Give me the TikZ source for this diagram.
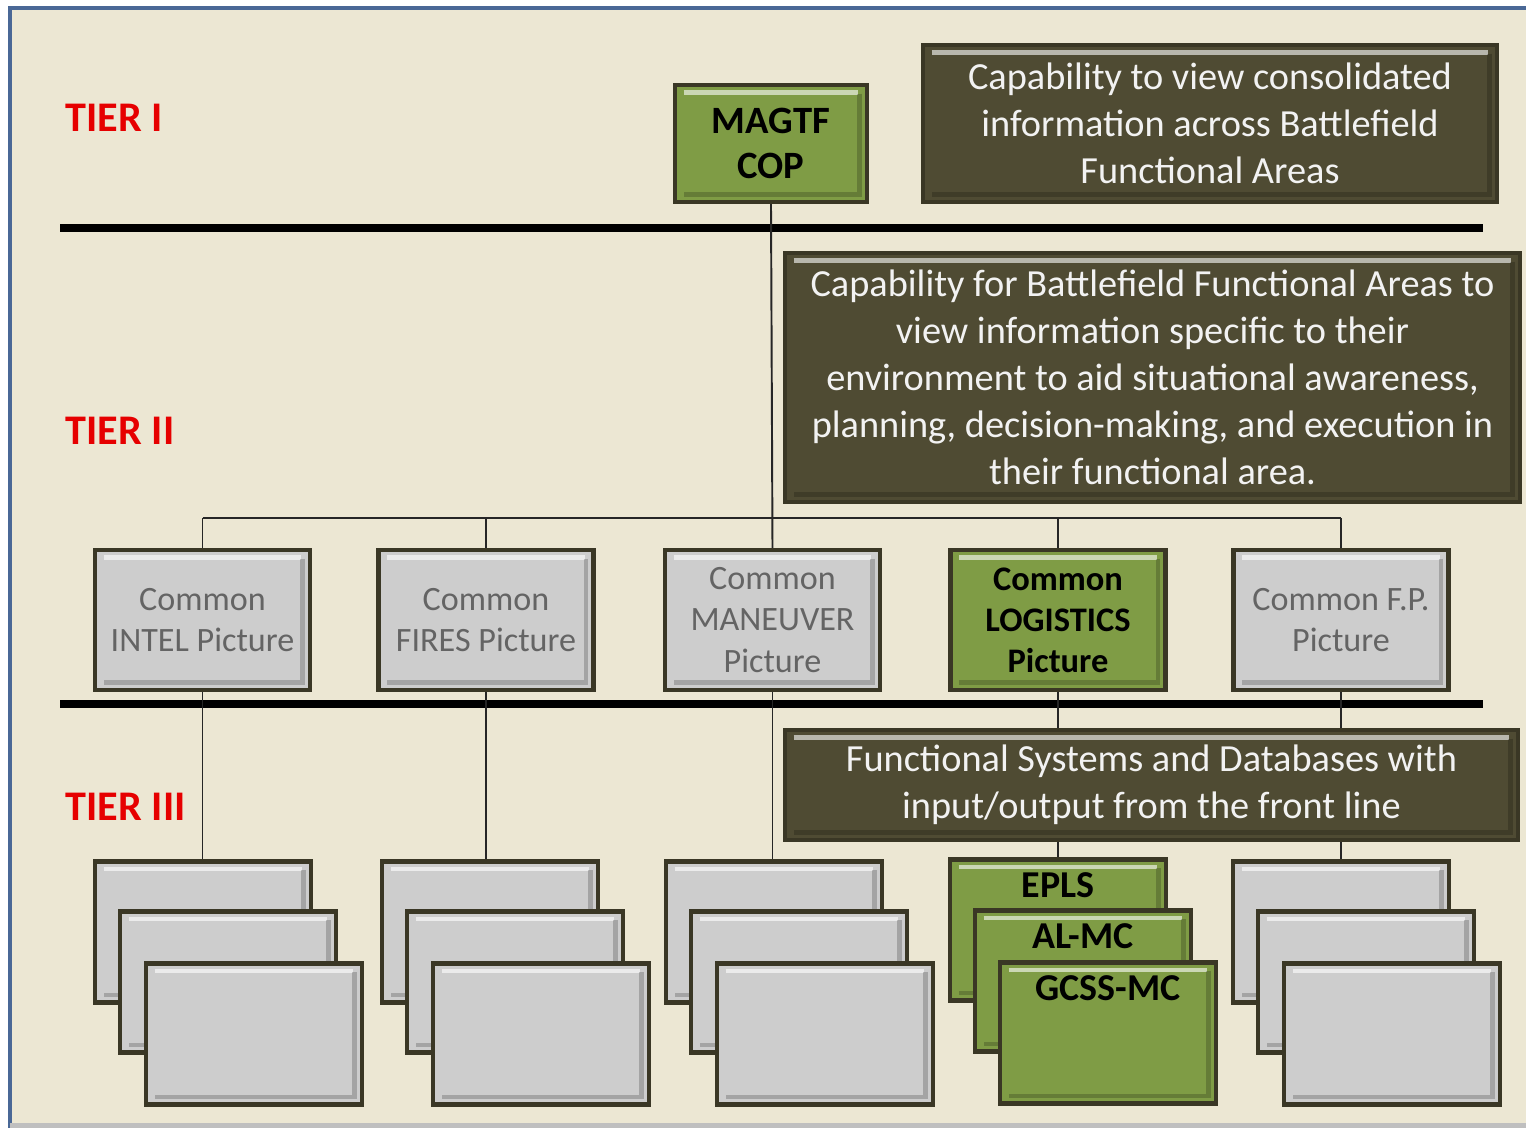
\documentclass[tikz,border=0pt]{standalone}
\usepackage{fontspec}
\setmainfont{Carlito}
\usetikzlibrary{positioning}
\pgfdeclarelayer{background}
\pgfsetlayers{background,main}

\definecolor{paper}{HTML}{ECE7D3}
\definecolor{frameblue}{HTML}{4A6896}
\definecolor{edge}{HTML}{3A3725}
\definecolor{darkolive}{HTML}{4F4B33}
\definecolor{copgreen}{HTML}{7F9C45}
\definecolor{boxgray}{HTML}{CDCDCD}
\definecolor{graytext}{HTML}{646464}
\definecolor{tierred}{HTML}{E60000}

\tikzset{
  bevel/.style={path picture={
    \draw[white,opacity=.6,line width=1.3pt]
      ([xshift=2.5pt,yshift=-2.2pt]path picture bounding box.north west) --
      ([xshift=-2.5pt,yshift=-2.2pt]path picture bounding box.north east);
    \draw[black,opacity=.2,line width=1.3pt]
      ([xshift=-2.2pt,yshift=-2.5pt]path picture bounding box.north east) --
      ([xshift=-2.2pt,yshift=2.2pt]path picture bounding box.south east) --
      ([xshift=2.5pt,yshift=2.2pt]path picture bounding box.south west);}},
  box/.style={draw=edge,line width=1.2pt,inner sep=0pt,align=center,bevel},
  info box/.style={box,fill=darkolive,text=white!95!black,
    font=\fontsize{10.9}{13.4}\selectfont},
  cop box/.style={box,fill=copgreen,text=black,
    font=\fontsize{11}{13}\selectfont\bfseries},
  pic box/.style={box,fill=boxgray,text=graytext,minimum width=2.15cm,minimum height=1.4cm,
    font=\fontsize{9.7}{11.7}\selectfont},
  sys box/.style={box,fill=boxgray,minimum width=2.16cm,minimum height=1.41cm},
  log box/.style={sys box,fill=copgreen},
  sys label/.style={font=\fontsize{10.8}{13}\selectfont\bfseries,anchor=north,inner sep=0pt,yshift=-0.15cm},
  tier/.style={font=\fontsize{12}{14}\selectfont\bfseries,text=tierred,anchor=west,inner sep=0pt},
  link/.style={draw=black!85,line width=0.55pt},
  rule/.style={draw=black,line width=2pt}
}

\begin{document}
\begin{tikzpicture}[x=0.01cm,y=-0.01cm]
  \useasboundingbox (0,0) rectangle (1526,1128);

  % tier labels
  \node[tier] (tierI) at (65,118) {TIER I};
  \node[tier] (tierII) at (65,431) {TIER II};
  \node[tier] (tierIII) at (65,807) {TIER III};

  % tier I
  \node[cop box,minimum width=1.92cm,minimum height=1.17cm] (magtf) at (771,143.5) {MAGTF\\COP};
  \node[info box,minimum width=5.74cm,minimum height=1.57cm] (capA) at (1210,123.5)
    {Capability to view consolidated\\information across Battlefield\\Functional Areas};
  \node[info box,minimum width=7.35cm,minimum height=2.49cm] (capB) at (1152.5,377.5)
    {Capability for Battlefield Functional Areas to\\view information specific to their\\
     environment to aid situational awareness,\\planning, decision-making, and execution in\\
     their functional area.};

  % tier II
  \node[pic box] (intel) at (202.5,620) {Common\\INTEL Picture};
  \node[pic box] (fires) at (486,620) {Common\\FIRES Picture};
  \node[pic box] (maneuver) at (772.5,620) {Common\\MANEUVER\\Picture};
  \node[pic box,fill=copgreen,text=black,font=\fontsize{9.8}{11.7}\selectfont\bfseries]
    (logistics) at (1058,620) {Common\\LOGISTICS\\Picture};
  \node[pic box] (fp) at (1341,620) {Common F.P.\\Picture};

  \node[info box,minimum width=7.33cm,minimum height=1.1cm] (capC) at (1151.5,785)
    {Functional Systems and Databases with\\input/output from the front line};

  % tier III
  \node[sys box] (intelA) at (203,932) {};
  \node[sys box] (intelB) at (228,982) {};
  \node[sys box] (intelC) at (254,1034) {};
  \node[sys box] (firesA) at (490,932) {};
  \node[sys box] (firesB) at (515,982) {};
  \node[sys box] (firesC) at (541,1034) {};
  \node[sys box] (maneuverA) at (774,932) {};
  \node[sys box] (maneuverB) at (799,982) {};
  \node[sys box] (maneuverC) at (825,1034) {};
  \node[log box,label={[sys label]north:EPLS}] (epls) at (1058,930) {};
  \node[log box,label={[sys label]north:AL-MC}] (almc) at (1083,981) {};
  \node[log box,label={[sys label]north:GCSS-MC}] (gcss) at (1108,1033) {};
  \node[sys box] (fpA) at (1341,932) {};
  \node[sys box] (fpB) at (1366,982) {};
  \node[sys box] (fpC) at (1392,1034) {};

  \begin{pgfonlayer}{background}
    % frame
    \fill[white] (0,0) rectangle (1526,1128);
    \fill[paper] (10,8) rectangle (1526,1128);
    \draw[frameblue,line width=1.2pt] (10,1128) -- (10,8) -- (1526,8);
    \draw[black!25,line width=1.5pt] (10,1126) -- (1526,1126);
    \draw[rule] (60,228) -- (1483,228);
    \draw[rule] (60,704) -- (1483,704);
    \coordinate (busL) at (202.5,518);
    \coordinate (busR) at (1341,518);
    \draw[link] (busL) -- (busR);
    \draw[link] (magtf.south) -- (maneuver.north);
    \draw[link] (intel.north) -- (intel.north |- busL);
    \draw[link] (fires.north) -- (fires.north |- busL);
    \draw[link] (logistics.north) -- (logistics.north |- busL);
    \draw[link] (fp.north) -- (fp.north |- busL);
    \draw[link] (intel.south) -- (intel.south |- intelA.north);
    \draw[link] (fires.south) -- (fires.south |- firesA.north);
    \draw[link] (maneuver.south) -- (maneuver.south |- maneuverA.north);
    \draw[link] (logistics.south) -- (logistics.south |- epls.north);
    \draw[link] (fp.south) -- (fp.south |- fpA.north);
  \end{pgfonlayer}
\end{tikzpicture}
\end{document}
